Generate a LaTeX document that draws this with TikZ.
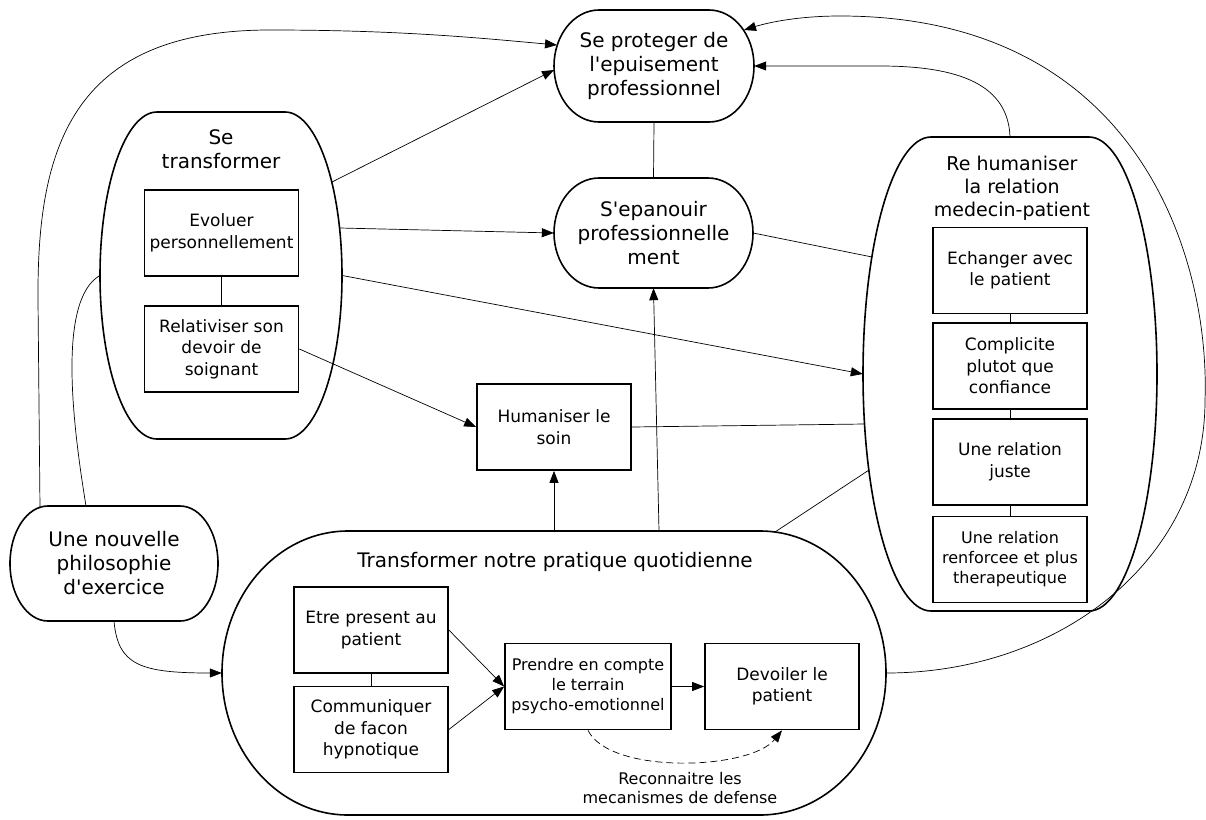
\documentclass[tikz,border=0pt]{standalone}
\usepackage{fontspec}
\setmainfont{DejaVu Sans}[Ligatures=TeXOff]
\usetikzlibrary{arrows.meta}
\newcommand\myfs[2]{\fontsize{#1pt}{#2pt}\selectfont}
\newcommand\ovalpath[5]{%
  \draw[outl] ({#1-#3+#5},{#2-#4}) -- ({#1+#3-#5},{#2-#4})
   .. controls ({#1+#3-#5+0.5523*#5},{#2-#4}) and ({#1+#3},{#2-0.5523*#4}) .. ({#1+#3},{#2})
   .. controls ({#1+#3},{#2+0.5523*#4}) and ({#1+#3-#5+0.5523*#5},{#2+#4}) .. ({#1+#3-#5},{#2+#4})
   -- ({#1-#3+#5},{#2+#4})
   .. controls ({#1-#3+#5-0.5523*#5},{#2+#4}) and ({#1-#3},{#2+0.5523*#4}) .. ({#1-#3},{#2})
   .. controls ({#1-#3},{#2-0.5523*#4}) and ({#1-#3+#5-0.5523*#5},{#2-#4}) .. cycle;}
\tikzset{
  outl/.style={line width=1.6pt},
  mybox/.style={draw, line width=1.7pt, minimum width=154pt, minimum height=86pt, inner sep=1pt, align=center, font=\myfs{17}{21.5}},
  smallbox/.style={mybox, font=\myfs{16}{20}},
  ovaltext/.style={inner sep=0pt, align=center, font=\myfs{20}{24}},
  ttl/.style={inner sep=0pt, align=center, font=\myfs{20}{24}},
  cont/.style={inner sep=0pt},
  conn/.style={line width=0.7pt},
  arrowc/.style={conn, -{Triangle[length=12pt,width=9pt]}},
  dashc/.style={arrowc, dash pattern=on 7pt off 4pt}
}
\begin{document}
\begin{tikzpicture}[x=1pt,y=-1pt]
\useasboundingbox (0,0) rectangle (1206,819);

% stadium nodes
\node[ovaltext, minimum width=200pt, minimum height=112pt] (sp) at (654,66) {Se proteger de\\l'epuisement\\professionnel};
\ovalpath{654}{66}{100}{56}{45}
\node[ovaltext, minimum width=199pt, minimum height=110pt] (se) at (653.5,233) {S'epanouir\\professionnelle\\ment};
\ovalpath{653.5}{233}{99.5}{55}{45}
\node[ovaltext, minimum width=208pt, minimum height=115pt] (un) at (114,563.5) {Une nouvelle\\philosophie\\d'exercice};
\ovalpath{114}{563.5}{104}{57.5}{38}

% containers
\node[cont, minimum width=242pt, minimum height=327pt] (st) at (221,275.5) {};
\ovalpath{221}{275.5}{121}{163.5}{57}
\node[ttl] (stT) at (221,149) {Se\\transformer};

\node[cont, minimum width=294pt, minimum height=474pt] (rh) at (1010,374) {};
\ovalpath{1010}{374}{147}{237}{68}
\node[ttl, font=\myfs{19}{23}] (rhT) at (1012,188) {Re humaniser\\la relation\\medecin-patient};

\node[cont, minimum width=664pt, minimum height=284pt] (tr) at (554,673) {};
\ovalpath{554}{673}{332}{142}{126}
\node[ttl] (trT) at (555,562) {Transformer notre pratique quotidienne};

% boxes
\node[mybox] (ev) at (221.5,233) {Evoluer\\personnellement};
\node[mybox] (rel) at (221.5,349) {Relativiser son\\devoir de\\soignant};
\node[mybox] (hum) at (554,427) {Humaniser le\\soin};
\node[mybox] (etre) at (371,630) {Etre present au\\patient};
\node[mybox] (com) at (371,729.5) {Communiquer\\de facon\\hypnotique};
\node[smallbox, minimum width=166pt] (pre) at (588,686.5) {Prendre en compte\\le terrain\\psycho-emotionnel};
\node[mybox] (dev) at (782,686.5) {Devoiler le\\patient};
\node[mybox] (ech) at (1010,270.5) {Echanger avec\\le patient};
\node[mybox] (cpl) at (1010,366) {Complicite\\plutot que\\confiance};
\node[mybox] (jus) at (1010,462) {Une relation\\juste};
\node[smallbox] (ren) at (1010,559.5) {Une relation\\renforcee et plus\\therapeutique};

\node[inner sep=0pt, align=center, font=\myfs{16}{19.5}] (lbl) at (680,788) {Reconnaitre les\\mecanismes de defense};

% connection points on curved borders
\coordinate (stA) at (332,182);
\coordinate (stB) at (339.5,228);
\coordinate (spA) at (554,70);
\coordinate (spK) at (744,30);
\coordinate (spM) at (557,45);
\coordinate (rhF) at (872,257);
\coordinate (rhG) at (864.5,424);
\coordinate (rhH) at (869,470);
\coordinate (trH) at (775,532);
\coordinate (trJ) at (659,531);
\coordinate (unM) at (40,508);
\coordinate (unN) at (86,506);

% plain links
\draw[conn] (sp.south) -- (se.north);
\draw[conn] (ev.south) -- (rel.north);
\draw[conn] (etre.south) -- (com.north);
\draw[conn] (ech.south) -- (cpl.north);
\draw[conn] (cpl.south) -- (jus.north);
\draw[conn] (jus.south) -- (ren.north);
\draw[conn] (se.east) -- (rhF);
\draw[conn] (hum.east) -- (rhG);
\draw[conn] (trH) -- (rhH);
\draw[conn] (unN) .. controls (72,420) and (58,300) .. (st.west);

% arrows
\draw[arrowc] (stA) -- (spA);
\draw[arrowc] (stB) -- (se.west);
\draw[arrowc] (st.east) -- (rh.west);
\draw[arrowc] (rel.east) -- (hum.west);
\draw[arrowc] (tr.north) -- (hum.south);
\draw[arrowc] (trJ) -- (se.south);
\draw[arrowc] (etre.east) -- (pre.west);
\draw[arrowc] (com.east) -- (pre.west);
\draw[arrowc] (pre.east) -- (dev.west);
\draw[dashc] (pre.south) .. controls (610,775) and (750,770) .. (dev.south);
\draw[arrowc] (un.south) .. controls (118,665) and (140,673) .. (tr.west);
\draw[arrowc] (rh.north) .. controls (1008,85) and (960,66) .. (880,66) -- (sp.east);
\draw[arrowc] (tr.east) .. controls (1060,673) and (1205,560) .. (1205,400)
   .. controls (1210,260) and (1140,16) .. (840,16)
   .. controls (800,16) and (770,22) .. (spK);
\draw[arrowc] (unM) -- (38,300) .. controls (37,150) and (70,30) .. (270,30)
   .. controls (400,30) and (480,38) .. (spM);
\end{tikzpicture}
\end{document}
